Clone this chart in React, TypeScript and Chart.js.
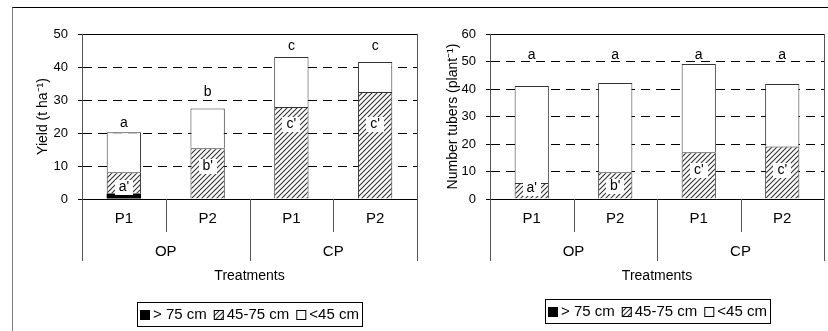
import React, { useEffect, useRef } from 'react';
import { Chart, registerables } from 'chart.js';

Chart.register(...registerables);

// ---------- data ----------
const categories = ['P1', 'P2', 'P1', 'P2'];
const groups = ['OP', 'CP'];
const seriesNames = ['> 75 cm', '45-75 cm', '<45 cm'];
const xTitle = 'Treatments';

// Yield (t ha-1)
const yieldOver75 = [1.7, 0, 0, 0];
const yield45to75 = [6.4, 15.4, 27.9, 32.4];
const yieldUnder45 = [12.1, 12.0, 15.1, 9.1];
const yieldTicksMax = 50;
const yieldLetters = ['a', 'b', 'c', 'c'];
const yieldLetterAt = [22.9, 32.4, 46.4, 46.4];
const yieldInner = ["a'", "b'", "c'", "c'"];
const yieldInnerAt = [3.6, 10.0, 22.7, 22.7];

// Number tubers (plant-1)
const tubersOver75 = [0, 0, 0, 0];
const tubers45to75 = [5.8, 9.7, 17.0, 19.1];
const tubersUnder45 = [35.3, 32.5, 32.1, 22.7];
const tubersTicksMax = 60;
const tubersLetters = ['a', 'a', 'a', 'a'];
const tubersLetterAt = [52.4, 52.4, 52.4, 52.4];
const tubersInner = ["a'", "b'", "c'", "c'"];
const tubersInnerAt = [4.0, 4.7, 10.5, 10.5];

const FONT = '"Liberation Sans", Arial, Helvetica, sans-serif';

function makeHatch(): CanvasPattern | string {
  const c = document.createElement('canvas');
  c.width = 5;
  c.height = 5;
  const g = c.getContext('2d');
  if (!g) return '#888';
  g.fillStyle = '#fff';
  g.fillRect(0, 0, 5, 5);
  g.strokeStyle = '#333';
  g.lineWidth = 1.1;
  g.beginPath();
  g.moveTo(-1, 6);
  g.lineTo(6, -1);
  g.moveTo(-1, 1);
  g.lineTo(1, -1);
  g.moveTo(4, 6);
  g.lineTo(6, 4);
  g.stroke();
  return g.createPattern(c, 'repeat') || '#888';
}

type PanelCfg = {
  over: number[];
  mid: number[];
  under: number[];
  max: number;
  yTitle: string;
  letters: string[];
  letterAt: number[];
  inner: string[];
  innerAt: number[];
  yAxisWidth: number;
  yTitlePad: number;
  padRight: number;
  legendTop: number;
};

function makePlugin(cfg: PanelCfg, hatch: CanvasPattern | string) {
  const px = (v: number) => Math.round(v) + 0.5;
  return {
    id: 'annot',
    afterDatasetsDraw(chart: any) {
      const { ctx, scales } = chart;
      const x = scales.x;
      const y = scales.y;
      ctx.save();
      ctx.textAlign = 'center';
      ctx.textBaseline = 'middle';
      ctx.fillStyle = '#000';
      ctx.font = `14px ${FONT}`;
      cfg.letters.forEach((t, i) => {
        ctx.fillStyle = '#000';
        ctx.fillText(t, x.getPixelForValue(i), y.getPixelForValue(cfg.letterAt[i]));
      });
      cfg.inner.forEach((t, i) => {
        const cx = x.getPixelForValue(i);
        const cy = y.getPixelForValue(cfg.innerAt[i]);
        ctx.fillStyle = '#fff';
        ctx.fillRect(Math.round(cx - 9), Math.round(cy - 7.5), 18, 15);
        ctx.fillStyle = '#000';
        ctx.fillText(t, cx, cy + 0.5);
      });
      ctx.restore();
    },
    afterDraw(chart: any) {
      const { ctx, chartArea, scales } = chart;
      const { left, right, top, bottom } = chartArea;
      const x = scales.x;
      const catBottom = bottom + 33;
      const groupBottom = bottom + 62;
      ctx.save();
      ctx.lineWidth = 1;
      // top frame
      ctx.strokeStyle = '#000';
      ctx.beginPath();
      ctx.moveTo(left, px(top));
      ctx.lineTo(right + 1, px(top));
      ctx.stroke();
      // zero axis
      ctx.beginPath();
      ctx.moveTo(left - 4, px(bottom));
      ctx.lineTo(right + 1, px(bottom));
      ctx.stroke();
      // verticals
      ctx.strokeStyle = '#555';
      ctx.beginPath();
      ctx.moveTo(px(left), top);
      ctx.lineTo(px(left), groupBottom);
      ctx.moveTo(px(right), top);
      ctx.lineTo(px(right), groupBottom);
      for (let i = 0; i < categories.length - 1; i++) {
        const sx = (x.getPixelForValue(i) + x.getPixelForValue(i + 1)) / 2;
        const isGroup = (i + 1) % 2 === 0;
        ctx.moveTo(px(sx), bottom);
        ctx.lineTo(px(sx), isGroup ? groupBottom : catBottom);
      }
      ctx.stroke();

      // legend
      ctx.font = `15px ${FONT}`;
      const sq = 10;
      const gapT = 3;
      const spacing = 7;
      const pad = 3;
      const widths = seriesNames.map((n) => ctx.measureText(n).width);
      const total =
        pad * 2 + widths.reduce((a, w) => a + sq + gapT + w, 0) + spacing * (seriesNames.length - 1);
      const cx = (left + right) / 2;
      const bl = Math.round(cx - total / 2);
      const bt = cfg.legendTop;
      const bh = 24;
      ctx.strokeStyle = '#000';
      ctx.strokeRect(bl + 0.5, bt + 0.5, Math.round(total), bh);
      let xx = bl + pad;
      const fills = ['#000', hatch, '#fff'];
      seriesNames.forEach((n, i) => {
        const sy = bt + Math.round((bh - sq) / 2) + 1;
        ctx.fillStyle = fills[i];
        ctx.fillRect(xx, sy, sq, sq);
        ctx.strokeStyle = '#000';
        ctx.strokeRect(xx + 0.5, sy + 0.5, sq - 1, sq - 1);
        ctx.fillStyle = '#000';
        ctx.textAlign = 'left';
        ctx.textBaseline = 'middle';
        ctx.fillText(n, xx + sq + gapT, bt + bh / 2 + 1);
        xx += sq + gapT + widths[i] + spacing;
      });
      ctx.restore();
    },
  };
}

function Panel(props: { cfg: PanelCfg; left: number; width: number }) {
  const ref = useRef<HTMLCanvasElement | null>(null);
  const { cfg } = props;
  useEffect(() => {
    if (!ref.current) return;
    const hatch = makeHatch();
    const tickFont = { family: FONT, size: 13 };
    const catFont = { family: FONT, size: 15 };
    const titleFont = { family: FONT, size: 14 };
    const chart = new Chart(ref.current, {
      type: 'bar',
      data: {
        labels: categories,
        datasets: [
          {
            label: seriesNames[0],
            data: cfg.over,
            backgroundColor: '#000',
            borderColor: '#000',
            borderWidth: 0,
          },
          {
            label: seriesNames[1],
            data: cfg.mid,
            backgroundColor: hatch as any,
            borderColor: '#333',
            borderWidth: 1,
          },
          {
            label: seriesNames[2],
            data: cfg.under,
            backgroundColor: '#fff',
            borderColor: '#333',
            borderWidth: 1,
          },
        ],
      },
      options: {
        animation: false,
        responsive: false,
        maintainAspectRatio: false,
        layout: { padding: { top: 34, right: cfg.padRight, bottom: 42, left: 0 } },
        plugins: { legend: { display: false }, tooltip: { enabled: false } },
        datasets: { bar: { categoryPercentage: 1, barPercentage: 0.41 } },
        scales: {
          x: {
            stacked: true,
            weight: 0,
            grid: { display: false, drawTicks: false },
            border: { display: false },
            ticks: { font: catFont, color: '#000', padding: 11, autoSkip: false, maxRotation: 0 },
            afterFit: (s: any) => {
              s.height = 33;
            },
          },
          x2: {
            type: 'category',
            labels: groups,
            offset: true,
            position: 'bottom',
            weight: 1,
            grid: { display: false, drawTicks: false },
            border: { display: false },
            ticks: { font: catFont, color: '#000', padding: 11, autoSkip: false, maxRotation: 0 },
            title: { display: true, text: xTitle, font: titleFont, color: '#000', padding: { top: 0, bottom: 4 } },
            afterFit: (s: any) => {
              s.height = 57;
            },
          },
          y: {
            stacked: true,
            min: 0,
            max: cfg.max,
            ticks: { stepSize: 10, font: tickFont, color: '#000', padding: 10 },
            grid: {
              color: '#000',
              lineWidth: 1,
              tickColor: '#000',
              tickLength: 4,
              tickBorderDash: [],
            },
            border: { display: true, color: '#555', dash: [9, 6] },
            title: {
              display: true,
              text: cfg.yTitle,
              font: titleFont,
              color: '#000',
              padding: { top: cfg.yTitlePad, bottom: 0 },
            },
            afterFit: (s: any) => {
              s.width = cfg.yAxisWidth;
            },
          },
        },
      } as any,
      plugins: [makePlugin(cfg, hatch)],
    });
    return () => chart.destroy();
  }, []);
  return (
    <div style={{ position: 'absolute', left: props.left, top: 0, width: props.width, height: 331 }}>
      <canvas ref={ref} width={props.width} height={331} style={{ display: 'block' }} />
    </div>
  );
}

const yieldCfg: PanelCfg = {
  over: yieldOver75,
  mid: yield45to75,
  under: yieldUnder45,
  max: yieldTicksMax,
  yTitle: 'Yield (t ha⁻¹)',
  letters: yieldLetters,
  letterAt: yieldLetterAt,
  inner: yieldInner,
  innerAt: yieldInnerAt,
  yAxisWidth: 82,
  yTitlePad: 35,
  padRight: 3,
  legendTop: 302,
};

const tubersCfg: PanelCfg = {
  over: tubersOver75,
  mid: tubers45to75,
  under: tubersUnder45,
  max: tubersTicksMax,
  yTitle: 'Number tubers (plant⁻¹)',
  letters: tubersLetters,
  letterAt: tubersLetterAt,
  inner: tubersInner,
  innerAt: tubersInnerAt,
  yAxisWidth: 76,
  yTitlePad: 31,
  padRight: 4,
  legendTop: 299,
};

export default function App() {
  return (
    <div
      style={{
        position: 'fixed',
        left: 0,
        top: 0,
        width: 828,
        height: 331,
        background: '#fff',
        overflow: 'hidden',
      }}
    >
      <div
        style={{
          position: 'absolute',
          left: 12,
          top: 7,
          width: 816,
          height: 330,
          borderTop: '1px solid #000',
          borderLeft: '1px solid #808080',
          boxSizing: 'border-box',
        }}
      />
      <Panel cfg={yieldCfg} left={0} width={420} />
      <Panel cfg={tubersCfg} left={414} width={414} />
    </div>
  );
}
